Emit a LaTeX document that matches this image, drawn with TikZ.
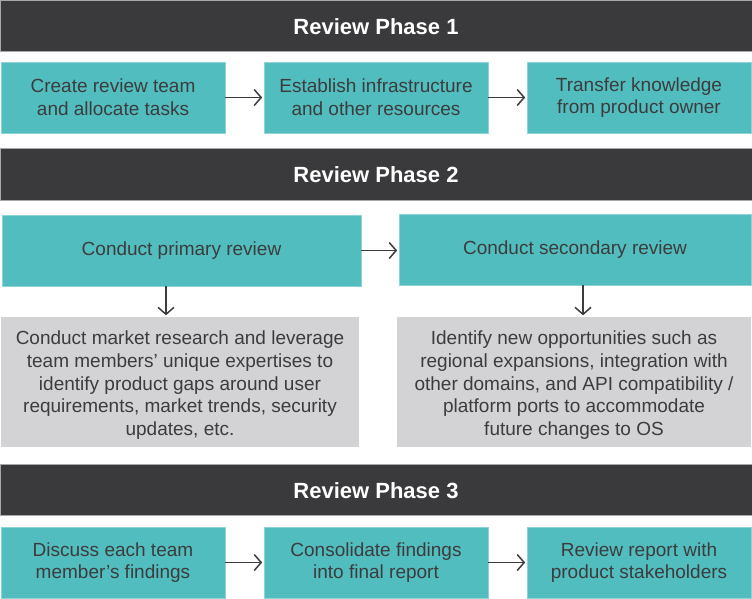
\documentclass[tikz,border=0pt]{standalone}
\usepackage{fontspec}
\setmainfont{Liberation Sans}
\usetikzlibrary{arrows.meta}
\definecolor{hdrc}{HTML}{3A3A3C}
\definecolor{hdredge}{HTML}{A8A8AA}
\definecolor{tealc}{HTML}{52BDBF}
\definecolor{tealedge}{HTML}{8ED4D5}
\definecolor{grayc}{HTML}{D3D3D5}
\definecolor{txtc}{HTML}{3C3C3E}
\newcommand{\topstrut}{\rule{0pt}{20pt}}
\tikzset{
  hdr/.style={draw=hdredge, line width=0.8pt, fill=hdrc, text=white, inner sep=0pt,
    minimum width=752pt, font=\fontsize{22}{25}\selectfont\bfseries},
  tbox/.style={draw=tealedge, line width=0.6pt, fill=tealc, text=txtc, inner sep=0pt,
    align=center, minimum height=71pt, font=\fontsize{19}{22.8}\selectfont},
  gbox/.style={fill=grayc, text=txtc, inner sep=0pt, align=center, minimum height=130pt,
    font=\fontsize{19}{22.7}\selectfont},
  arr/.style={draw=txtc, line width=1.5pt, -{Straight Barb[length=7pt,width=16pt,line width=1.5pt]}, shorten >=1.5pt}
}
\begin{document}
\begin{tikzpicture}[x=1pt,y=-1pt]
\useasboundingbox (0,0) rectangle (752,598);
% headers
\node[hdr, minimum height=51pt] (h1) at (376,25.5) {\rule{0pt}{18pt}Review Phase 1};
\node[hdr, minimum height=52pt] (h2) at (376,174) {\rule{0pt}{18pt}Review Phase 2};
\node[hdr, minimum height=51pt] (h3) at (376,489.5) {\rule{0pt}{18pt}Review Phase 3};
% phase 1
\node[tbox, minimum width=224pt] (a1) at (113,97.5) {Create review team\\and allocate tasks};
\node[tbox, minimum width=224pt] (a2) at (376,97.5) {Establish infrastructure\\and other resources};
\node[tbox, minimum width=224pt] (a3) at (639,97.5) {Transfer knowledge\\from product owner};
\draw[arr] (a1.east) -- (a2.west);
\draw[arr] (a2.east) -- (a3.west);
% phase 2
\node[tbox, minimum width=359pt] (b1) at (181.5,250.5) {Conduct primary review};
\node[tbox, minimum width=352pt] (b2) at (575,249.5) {Conduct secondary review};
\node[gbox, minimum width=358pt] (g1) at (180,382) {\topstrut Conduct market research and leverage\\team members’ unique expertises to\\identify product gaps around user\\requirements, market trends, security\\updates, etc.};
\node[gbox, minimum width=354pt] (g2) at (574,382) {\topstrut Identify new opportunities such as\\regional expansions, integration with\\other domains, and API compatibility /\\platform ports to accommodate\\future changes to OS};
\coordinate (d1) at (166,0);
\coordinate (d2) at (583,0);
\draw[arr] (b1.east) -- (b1.east -| b2.west);
\draw[arr] (b1.south -| d1) -- (g1.north -| d1);
\draw[arr] (b2.south -| d2) -- (g2.north -| d2);
% phase 3
\node[tbox, minimum width=224pt] (c1) at (113,562.5) {Discuss each team\\member’s findings};
\node[tbox, minimum width=224pt] (c2) at (376,562.5) {Consolidate findings\\into final report};
\node[tbox, minimum width=224pt] (c3) at (639,562.5) {Review report with\\product stakeholders};
\draw[arr] (c1.east) -- (c2.west);
\draw[arr] (c2.east) -- (c3.west);
\end{tikzpicture}
\end{document}
